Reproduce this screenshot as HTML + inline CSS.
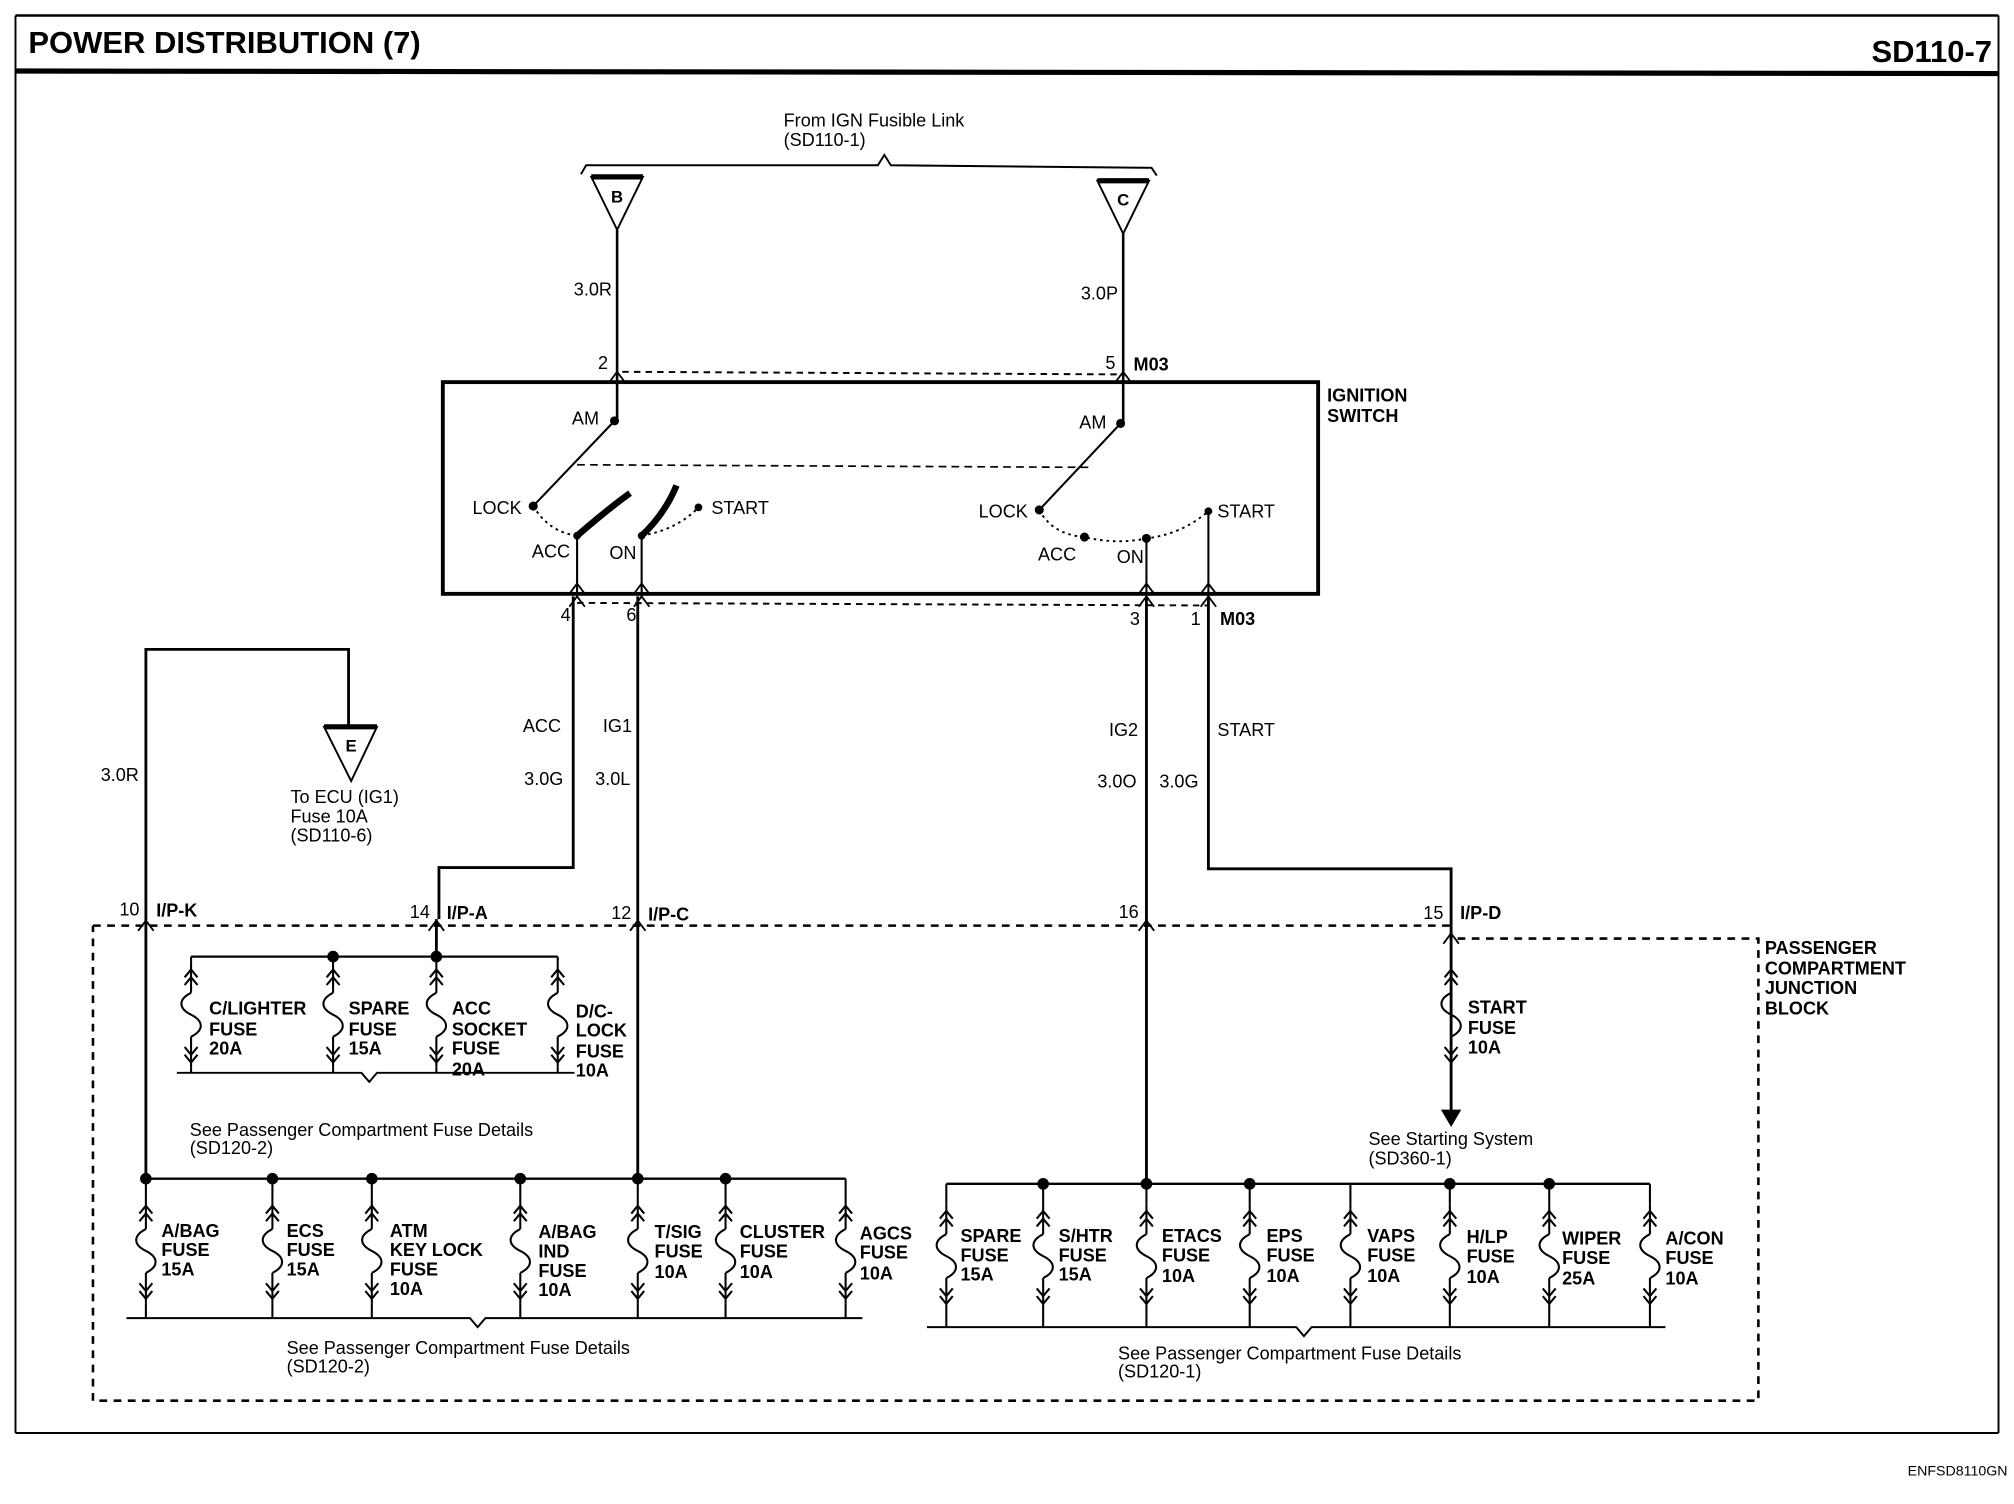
<!DOCTYPE html>
<html><head><meta charset="utf-8"><style>
html,body{margin:0;padding:0;background:#fff}
svg{display:block}
text{font-family:"Liberation Sans",sans-serif;font-size:14px;fill:#000}
.b{font-weight:bold}
</style></head><body>
<svg width="2014" height="1504" viewBox="0 0 1560 1165" preserveAspectRatio="none" xmlns="http://www.w3.org/2000/svg">
<defs>
<g id="fz" fill="none" stroke="#000" stroke-width="1.6">
<line x1="0" y1="0" x2="0" y2="24"/>
<polyline points="-5,12 0,6 5,12"/><polyline points="-5,18 0,12 5,18"/>
<path d="M0,24 c-10,5 -10,12 0,17 c10,5 10,12 0,17"/>
<line x1="0" y1="58" x2="0" y2="82"/>
<polyline points="-5,66 0,72 5,66"/><polyline points="-5,72 0,78 5,72"/>
</g>
<g id="cn" fill="none" stroke="#000" stroke-width="1.4"><polyline points="-6,8 0,0 6,8"/></g>
</defs>
<g fill="none" stroke="#000">
<!-- frame -->
<line x1="12" y1="12" x2="1548" y2="12" stroke-width="2"/>
<line x1="12" y1="55" x2="1548" y2="57" stroke-width="4"/>
<line x1="12" y1="12" x2="12" y2="1110" stroke-width="1.5"/>
<line x1="1548" y1="12" x2="1548" y2="1110" stroke-width="1.5"/>
<line x1="12" y1="1110" x2="1548" y2="1110" stroke-width="1.5"/>
<!-- brace -->
<polyline points="450,135 454,128 680,128 685,120 690,128 892,130 896,136" stroke-width="1.5"/>
<!-- triangles -->
<polygon points="458,137 498,137 478,178" stroke-width="1.5"/><line x1="458" y1="137" x2="498" y2="137" stroke-width="4"/>
<polygon points="850,140 890,140 870,181" stroke-width="1.5"/><line x1="850" y1="140" x2="890" y2="140" stroke-width="4"/>
<line x1="478" y1="178" x2="478" y2="326" stroke-width="2"/>
<line x1="870" y1="181" x2="870" y2="328" stroke-width="2"/>
<line x1="482" y1="288" x2="866" y2="290" stroke-dasharray="5,4" stroke-width="1.5"/>
<!-- ignition box -->
<rect x="343" y="296" width="678" height="164" stroke-width="3"/>
<!-- left switch -->
<line x1="476" y1="326" x2="413" y2="392" stroke-width="1.6"/>
<path d="M413,392 Q425,412 447,415 M497,415 Q525,410 541,393" stroke-dasharray="2,3" stroke-width="1.5"/>
<path d="M447,415 Q470,395 488,382" stroke-width="5"/>
<path d="M497,415 Q515,398 524,376" stroke-width="5"/>
<line x1="447" y1="415" x2="447" y2="462" stroke-width="1.6"/>
<line x1="497" y1="415" x2="497" y2="462" stroke-width="1.6"/>
<line x1="447" y1="360" x2="843" y2="362" stroke-dasharray="6,4" stroke-width="1.3"/>
<!-- right switch -->
<line x1="868" y1="328" x2="805" y2="395" stroke-width="1.6"/>
<path d="M805,395 Q815,414 840,416 Q865,422 888,417 Q915,414 936,396" stroke-dasharray="2,3" stroke-width="1.5"/>
<line x1="888" y1="417" x2="888" y2="462" stroke-width="1.6"/>
<line x1="936" y1="396" x2="936" y2="462" stroke-width="1.6"/>
<line x1="447" y1="467" x2="936" y2="469" stroke-dasharray="5,4" stroke-width="1.5"/>
<!-- wires down -->
<polyline points="444,462 444,672 340,672 340,712" stroke-width="2.2"/>
<line x1="494" y1="462" x2="494" y2="913" stroke-width="2.2"/>
<line x1="888" y1="462" x2="888" y2="917" stroke-width="2.2"/>
<polyline points="936,462 936,673 1124,673 1124,860" stroke-width="2.2"/>
<polyline points="113,913 113,503 270,503 270,563" stroke-width="2.2"/>
<polygon points="251,563 292,563 272,605" stroke-width="1.5"/><line x1="251" y1="563" x2="292" y2="563" stroke-width="4"/>
<!-- junction block -->
<polyline points="72,717 1124,717 1124,727 1362,727 1362,1085 72,1085 72,717" stroke-dasharray="6,5" stroke-width="2"/>
<!-- upper fuse group -->
<line x1="148" y1="741" x2="432" y2="741" stroke-width="1.8"/>
<line x1="338" y1="712" x2="338" y2="741" stroke-width="2.2"/>
<polyline points="137,831 280,831 286,838 292,831 445,831" stroke-width="1.5"/>
<!-- lower left group -->
<line x1="113" y1="913" x2="655" y2="913" stroke-width="1.8"/>
<polyline points="98,1021 364,1021 370,1028 376,1021 668,1021" stroke-width="1.5"/>
<!-- lower right group -->
<line x1="733" y1="917" x2="1278" y2="917" stroke-width="1.8"/>
<polyline points="718,1028 1004,1028 1010,1035 1016,1028 1290,1028" stroke-width="1.5"/>
<polygon points="1117,860 1131,860 1124,872" fill="#000"/>
</g>
<g fill="none" stroke="#000" stroke-width="1.6">
<!-- upper fuses 741-831 -->
<use href="#fz" x="148" y="745"/><line x1="148" y1="741" x2="148" y2="745"/><line x1="148" y1="827" x2="148" y2="831"/>
<use href="#fz" x="258" y="745"/><line x1="258" y1="741" x2="258" y2="745"/><line x1="258" y1="827" x2="258" y2="831"/>
<use href="#fz" x="338" y="745"/><line x1="338" y1="741" x2="338" y2="745"/><line x1="338" y1="827" x2="338" y2="831"/>
<use href="#fz" x="432" y="745"/><line x1="432" y1="741" x2="432" y2="745"/><line x1="432" y1="827" x2="432" y2="831"/>
<!-- lower left 913-1021 -->
<use href="#fz" x="113" y="928"/><line x1="113" y1="913" x2="113" y2="928"/><line x1="113" y1="1010" x2="113" y2="1021"/>
<use href="#fz" x="211" y="928"/><line x1="211" y1="913" x2="211" y2="928"/><line x1="211" y1="1010" x2="211" y2="1021"/>
<use href="#fz" x="288" y="928"/><line x1="288" y1="913" x2="288" y2="928"/><line x1="288" y1="1010" x2="288" y2="1021"/>
<use href="#fz" x="403" y="928"/><line x1="403" y1="913" x2="403" y2="928"/><line x1="403" y1="1010" x2="403" y2="1021"/>
<use href="#fz" x="494" y="928"/><line x1="494" y1="913" x2="494" y2="928"/><line x1="494" y1="1010" x2="494" y2="1021"/>
<use href="#fz" x="562" y="928"/><line x1="562" y1="913" x2="562" y2="928"/><line x1="562" y1="1010" x2="562" y2="1021"/>
<use href="#fz" x="655" y="928"/><line x1="655" y1="913" x2="655" y2="928"/><line x1="655" y1="1010" x2="655" y2="1021"/>
<!-- lower right 917-1028 -->
<use href="#fz" x="733" y="932"/><line x1="733" y1="917" x2="733" y2="932"/><line x1="733" y1="1014" x2="733" y2="1028"/>
<use href="#fz" x="808" y="932"/><line x1="808" y1="917" x2="808" y2="932"/><line x1="808" y1="1014" x2="808" y2="1028"/>
<use href="#fz" x="888" y="932"/><line x1="888" y1="917" x2="888" y2="932"/><line x1="888" y1="1014" x2="888" y2="1028"/>
<use href="#fz" x="968" y="932"/><line x1="968" y1="917" x2="968" y2="932"/><line x1="968" y1="1014" x2="968" y2="1028"/>
<use href="#fz" x="1046" y="932"/><line x1="1046" y1="917" x2="1046" y2="932"/><line x1="1046" y1="1014" x2="1046" y2="1028"/>
<use href="#fz" x="1123" y="932"/><line x1="1123" y1="917" x2="1123" y2="932"/><line x1="1123" y1="1014" x2="1123" y2="1028"/>
<use href="#fz" x="1200" y="932"/><line x1="1200" y1="917" x2="1200" y2="932"/><line x1="1200" y1="1014" x2="1200" y2="1028"/>
<use href="#fz" x="1278" y="932"/><line x1="1278" y1="917" x2="1278" y2="932"/><line x1="1278" y1="1014" x2="1278" y2="1028"/>
<!-- start fuse -->
<use href="#fz" x="1124" y="745"/><line x1="1124" y1="727" x2="1124" y2="745"/><line x1="1124" y1="827" x2="1124" y2="860"/>
<!-- connectors -->
<use href="#cn" x="478" y="288"/><use href="#cn" x="870" y="288"/>
<use href="#cn" x="447" y="462"/><use href="#cn" x="497" y="462"/><use href="#cn" x="888" y="462"/><use href="#cn" x="936" y="462"/>
<use href="#cn" x="113" y="713"/><use href="#cn" x="338" y="713"/><use href="#cn" x="494" y="713"/><use href="#cn" x="888" y="713"/><use href="#cn" x="1124" y="723"/>
<use href="#cn" x="447" y="452"/><use href="#cn" x="497" y="452"/><use href="#cn" x="888" y="452"/><use href="#cn" x="936" y="452"/>
</g>
<g fill="#000">
<circle cx="476" cy="326" r="3.5"/><circle cx="413" cy="392" r="3.5"/><circle cx="541" cy="393" r="3"/>
<circle cx="447" cy="415" r="3"/><circle cx="497" cy="415" r="3"/>
<circle cx="868" cy="328" r="3.5"/><circle cx="805" cy="395" r="3.5"/><circle cx="840" cy="416" r="3.5"/><circle cx="888" cy="417" r="3.5"/><circle cx="936" cy="396" r="3"/>
<circle cx="258" cy="741" r="4.5"/><circle cx="338" cy="741" r="4.5"/>
<circle cx="113" cy="913" r="4.5"/><circle cx="211" cy="913" r="4.5"/><circle cx="288" cy="913" r="4.5"/><circle cx="403" cy="913" r="4.5"/><circle cx="494" cy="913" r="4.5"/><circle cx="562" cy="913" r="4.5"/>
<circle cx="808" cy="917" r="4.5"/><circle cx="888" cy="917" r="4.5"/><circle cx="968" cy="917" r="4.5"/><circle cx="1123" cy="917" r="4.5"/><circle cx="1200" cy="917" r="4.5"/>
</g>
<!-- text -->
<text x="22" y="41" class="b" style="font-size:24px">POWER DISTRIBUTION (7)</text>
<text x="1543" y="48" class="b" style="font-size:24px" text-anchor="end">SD110-7</text>
<text x="1555" y="1143" style="font-size:11px" text-anchor="end">ENFSD8110GN</text>
<text x="607" y="98">From IGN Fusible Link</text><text x="607" y="113">(SD110-1)</text>
<text x="478" y="157" class="b" style="font-size:13px" text-anchor="middle">B</text>
<text x="870" y="159" class="b" style="font-size:13px" text-anchor="middle">C</text>
<text x="272" y="582" class="b" style="font-size:13px" text-anchor="middle">E</text>
<text x="474" y="229" text-anchor="end">3.0R</text><text x="866" y="232" text-anchor="end">3.0P</text>
<text x="471" y="286" text-anchor="end">2</text><text x="864" y="286" text-anchor="end">5</text><text x="878" y="287" class="b">M03</text>
<text x="1028" y="311" class="b">IGNITION</text><text x="1028" y="327" class="b">SWITCH</text>
<text x="443" y="329">AM</text><text x="836" y="332">AM</text>
<text x="366" y="398">LOCK</text><text x="551" y="398">START</text><text x="412" y="432">ACC</text><text x="472" y="433">ON</text>
<text x="758" y="401">LOCK</text><text x="943" y="401">START</text><text x="804" y="434">ACC</text><text x="865" y="436">ON</text>
<text x="442" y="481" text-anchor="end">4</text><text x="493" y="481" text-anchor="end">6</text>
<text x="883" y="484" text-anchor="end">3</text><text x="930" y="484" text-anchor="end">1</text><text x="945" y="484" class="b">M03</text>
<text x="405" y="567">ACC</text><text x="467" y="567">IG1</text><text x="406" y="608">3.0G</text><text x="461" y="608">3.0L</text>
<text x="859" y="570">IG2</text><text x="943" y="570">START</text><text x="850" y="610">3.0O</text><text x="898" y="610">3.0G</text>
<text x="78" y="605">3.0R</text>
<text x="225" y="622">To ECU (IG1)</text><text x="225" y="637">Fuse 10A</text><text x="225" y="652">(SD110-6)</text>
<text x="108" y="709" text-anchor="end">10</text><text x="121" y="710" class="b">I/P-K</text>
<text x="333" y="711" text-anchor="end">14</text><text x="346" y="712" class="b">I/P-A</text>
<text x="489" y="712" text-anchor="end">12</text><text x="502" y="713" class="b">I/P-C</text>
<text x="882" y="711" text-anchor="end">16</text>
<text x="1118" y="712" text-anchor="end">15</text><text x="1131" y="712" class="b">I/P-D</text>
<g class="b">
<text x="1367" y="739" class="b">PASSENGER</text><text x="1367" y="755" class="b">COMPARTMENT</text><text x="1367" y="770" class="b">JUNCTION</text><text x="1367" y="786" class="b">BLOCK</text>
<text x="162" y="786" class="b">C/LIGHTER</text><text x="162" y="802" class="b">FUSE</text><text x="162" y="817" class="b">20A</text>
<text x="270" y="786" class="b">SPARE</text><text x="270" y="802" class="b">FUSE</text><text x="270" y="817" class="b">15A</text>
<text x="350" y="786" class="b">ACC</text><text x="350" y="802" class="b">SOCKET</text><text x="350" y="817" class="b">FUSE</text><text x="350" y="833" class="b">20A</text>
<text x="446" y="788" class="b">D/C-</text><text x="446" y="803" class="b">LOCK</text><text x="446" y="819" class="b">FUSE</text><text x="446" y="834" class="b">10A</text>
<text x="1137" y="785" class="b">START</text><text x="1137" y="801" class="b">FUSE</text><text x="1137" y="816" class="b">10A</text>
<text x="125" y="958" class="b">A/BAG</text><text x="125" y="973" class="b">FUSE</text><text x="125" y="988" class="b">15A</text>
<text x="222" y="958" class="b">ECS</text><text x="222" y="973" class="b">FUSE</text><text x="222" y="988" class="b">15A</text>
<text x="302" y="958" class="b">ATM</text><text x="302" y="973" class="b">KEY LOCK</text><text x="302" y="988" class="b">FUSE</text><text x="302" y="1003" class="b">10A</text>
<text x="417" y="959" class="b">A/BAG</text><text x="417" y="974" class="b">IND</text><text x="417" y="989" class="b">FUSE</text><text x="417" y="1004" class="b">10A</text>
<text x="507" y="959" class="b">T/SIG</text><text x="507" y="974" class="b">FUSE</text><text x="507" y="990" class="b">10A</text>
<text x="573" y="959" class="b">CLUSTER</text><text x="573" y="974" class="b">FUSE</text><text x="573" y="990" class="b">10A</text>
<text x="666" y="960" class="b">AGCS</text><text x="666" y="975" class="b">FUSE</text><text x="666" y="991" class="b">10A</text>
<text x="744" y="962" class="b">SPARE</text><text x="744" y="977" class="b">FUSE</text><text x="744" y="992" class="b">15A</text>
<text x="820" y="962" class="b">S/HTR</text><text x="820" y="977" class="b">FUSE</text><text x="820" y="992" class="b">15A</text>
<text x="900" y="962" class="b">ETACS</text><text x="900" y="977" class="b">FUSE</text><text x="900" y="993" class="b">10A</text>
<text x="981" y="962" class="b">EPS</text><text x="981" y="977" class="b">FUSE</text><text x="981" y="993" class="b">10A</text>
<text x="1059" y="962" class="b">VAPS</text><text x="1059" y="977" class="b">FUSE</text><text x="1059" y="993" class="b">10A</text>
<text x="1136" y="963" class="b">H/LP</text><text x="1136" y="978" class="b">FUSE</text><text x="1136" y="994" class="b">10A</text>
<text x="1210" y="964" class="b">WIPER</text><text x="1210" y="979" class="b">FUSE</text><text x="1210" y="995" class="b">25A</text>
<text x="1290" y="964" class="b">A/CON</text><text x="1290" y="979" class="b">FUSE</text><text x="1290" y="995" class="b">10A</text>
</g>
<text x="147" y="880">See Passenger Compartment Fuse Details</text><text x="147" y="894">(SD120-2)</text>
<text x="1060" y="887">See Starting System</text><text x="1060" y="902">(SD360-1)</text>
<text x="222" y="1049">See Passenger Compartment Fuse Details</text><text x="222" y="1063">(SD120-2)</text>
<text x="866" y="1053">See Passenger Compartment Fuse Details</text><text x="866" y="1067">(SD120-1)</text>
</svg>
</body></html>
